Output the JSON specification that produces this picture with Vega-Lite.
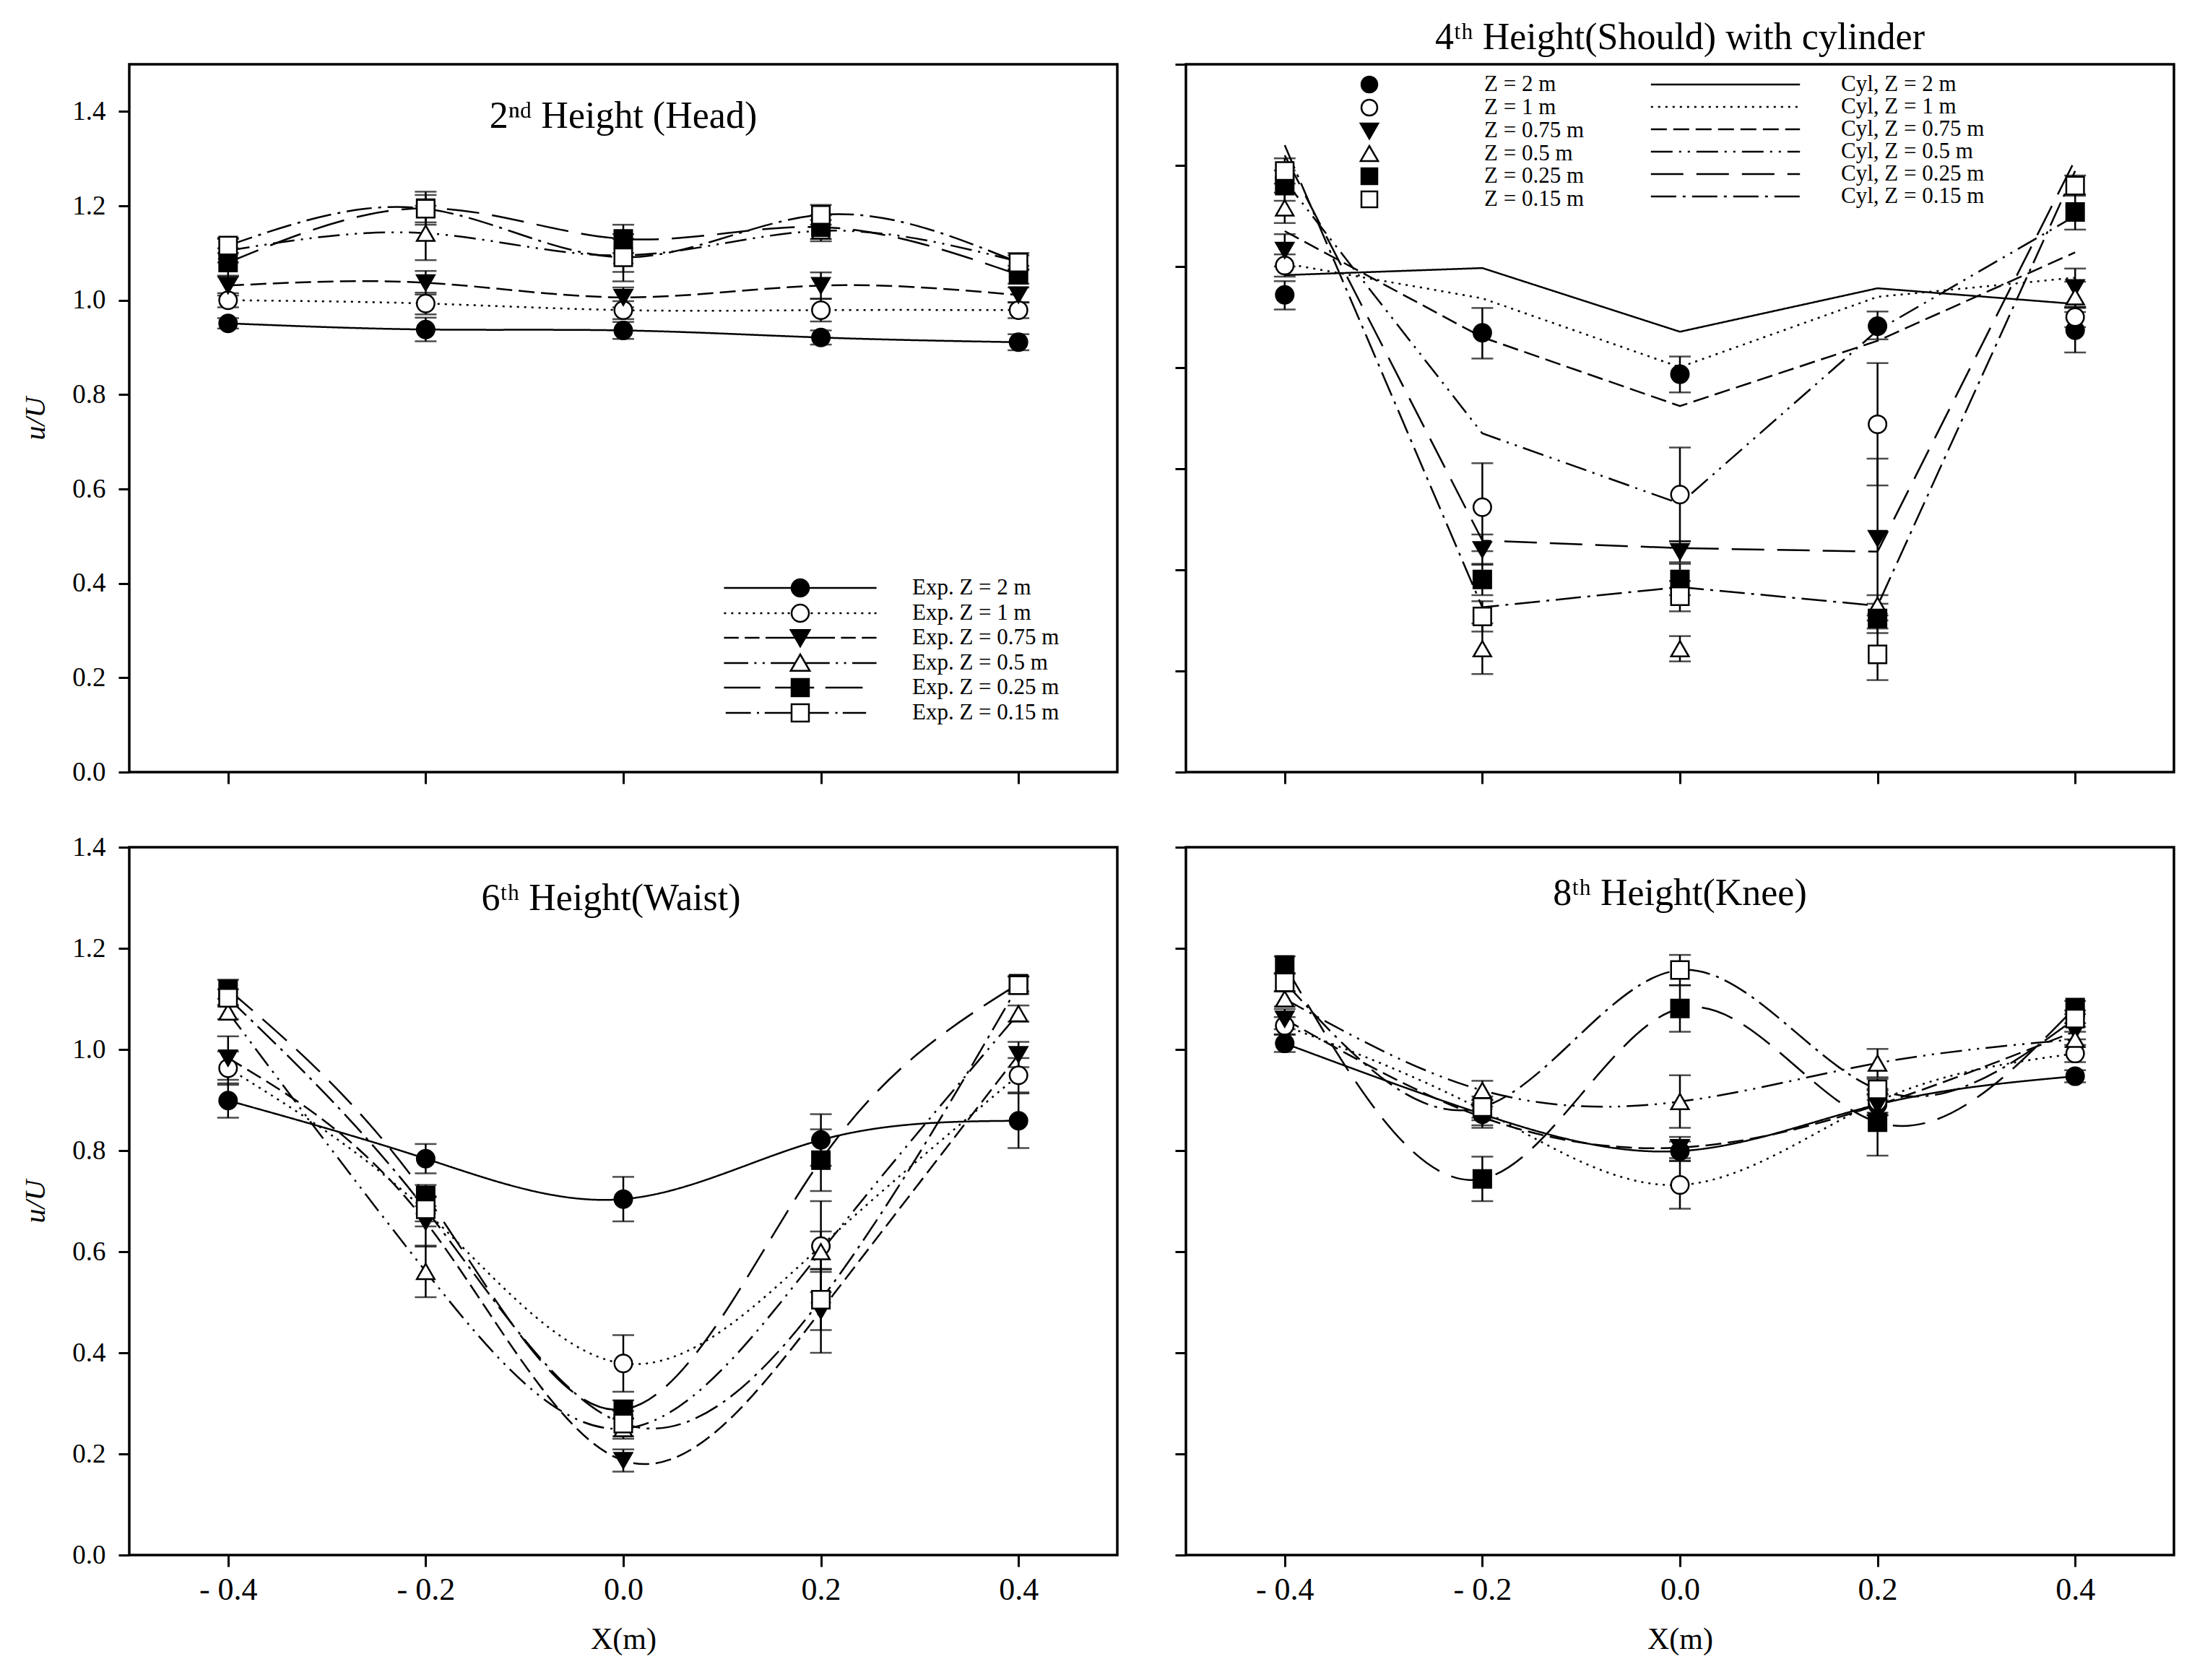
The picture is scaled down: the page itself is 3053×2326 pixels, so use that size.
{
  "$schema": "https://vega.github.io/schema/vega-lite/v6.json",
  "background": "white",
  "padding": {"left": 28, "top": 23, "right": 5, "bottom": 5},
  "bounds": "flush",
  "columns": 2,
  "spacing": {"row": 104, "column": 95},
  "resolve": {"scale": {"shape": "independent", "fill": "independent", "strokeDash": "independent"}},
  "config": {
    "view": {"stroke": "black", "strokeWidth": 3.5},
    "axis": {"domain": false, "grid": false, "ticks": true, "tickColor": "black", "tickWidth": 3, "tickSize": 15, "labelFont": "Liberation Serif", "labelColor": "black", "titleFont": "Liberation Serif", "titleColor": "black", "titleFontWeight": "normal"},
    "axisX": {"labelFontSize": 44, "labelPadding": 10, "titleFontSize": 42, "titlePadding": 26, "tickSize": 16},
    "axisY": {"labelFontSize": 37, "labelPadding": 18, "titleFontSize": 40, "titlePadding": 30, "titleFontStyle": "italic"},
    "title": {"font": "Liberation Serif", "fontSize": 52, "fontWeight": "normal", "color": "black", "frame": "group", "anchor": "middle", "baseline": "middle"},
    "legend": {"labelFont": "Liberation Serif", "labelColor": "black", "labelLimit": 400, "padding": 0}
  },
  "datasets": {
    "exp": [
      {"p": "head", "z": "Z = 2 m", "x": -0.4, "u": 0.951, "lo": 0.94, "hi": 0.962},
      {"p": "head", "z": "Z = 2 m", "x": -0.2, "u": 0.938, "lo": 0.913, "hi": 0.963},
      {"p": "head", "z": "Z = 2 m", "x": 0, "u": 0.936, "lo": 0.918, "hi": 0.954},
      {"p": "head", "z": "Z = 2 m", "x": 0.2, "u": 0.921, "lo": 0.906, "hi": 0.936},
      {"p": "head", "z": "Z = 2 m", "x": 0.4, "u": 0.911, "lo": 0.894, "hi": 0.928},
      {"p": "head", "z": "Z = 1 m", "x": -0.4, "u": 1.0, "lo": 0.985, "hi": 1.015},
      {"p": "head", "z": "Z = 1 m", "x": -0.2, "u": 0.993, "lo": 0.97, "hi": 1.016},
      {"p": "head", "z": "Z = 1 m", "x": 0, "u": 0.979, "lo": 0.96, "hi": 0.998},
      {"p": "head", "z": "Z = 1 m", "x": 0.2, "u": 0.979, "lo": 0.955, "hi": 1.003},
      {"p": "head", "z": "Z = 1 m", "x": 0.4, "u": 0.979, "lo": 0.962, "hi": 0.996},
      {"p": "head", "z": "Z = 0.75 m", "x": -0.4, "u": 1.031, "lo": 1.01, "hi": 1.052},
      {"p": "head", "z": "Z = 0.75 m", "x": -0.2, "u": 1.037, "lo": 1.012, "hi": 1.062},
      {"p": "head", "z": "Z = 0.75 m", "x": 0, "u": 1.006, "lo": 0.985, "hi": 1.027},
      {"p": "head", "z": "Z = 0.75 m", "x": 0.2, "u": 1.031, "lo": 1.003, "hi": 1.059},
      {"p": "head", "z": "Z = 0.75 m", "x": 0.4, "u": 1.011, "lo": 0.995, "hi": 1.027},
      {"p": "head", "z": "Z = 0.5 m", "x": -0.4, "u": 1.105, "lo": 1.08, "hi": 1.13},
      {"p": "head", "z": "Z = 0.5 m", "x": -0.2, "u": 1.142, "lo": 1.085, "hi": 1.2},
      {"p": "head", "z": "Z = 0.5 m", "x": 0, "u": 1.095, "lo": 1.06, "hi": 1.13},
      {"p": "head", "z": "Z = 0.5 m", "x": 0.2, "u": 1.147, "lo": 1.125, "hi": 1.17},
      {"p": "head", "z": "Z = 0.5 m", "x": 0.4, "u": 1.082, "lo": 1.065, "hi": 1.1},
      {"p": "head", "z": "Z = 0.25 m", "x": -0.4, "u": 1.08, "lo": 1.05, "hi": 1.11},
      {"p": "head", "z": "Z = 0.25 m", "x": -0.2, "u": 1.195, "lo": 1.16, "hi": 1.23},
      {"p": "head", "z": "Z = 0.25 m", "x": 0, "u": 1.13, "lo": 1.1, "hi": 1.16},
      {"p": "head", "z": "Z = 0.25 m", "x": 0.2, "u": 1.155, "lo": 1.13, "hi": 1.18},
      {"p": "head", "z": "Z = 0.25 m", "x": 0.4, "u": 1.054, "lo": 1.035, "hi": 1.073},
      {"p": "head", "z": "Z = 0.15 m", "x": -0.4, "u": 1.116, "lo": 1.1, "hi": 1.132},
      {"p": "head", "z": "Z = 0.15 m", "x": -0.2, "u": 1.194, "lo": 1.165, "hi": 1.223},
      {"p": "head", "z": "Z = 0.15 m", "x": 0, "u": 1.091, "lo": 1.04, "hi": 1.14},
      {"p": "head", "z": "Z = 0.15 m", "x": 0.2, "u": 1.181, "lo": 1.16, "hi": 1.202},
      {"p": "head", "z": "Z = 0.15 m", "x": 0.4, "u": 1.08, "lo": 1.065, "hi": 1.095},

      {"p": "shoulder", "z": "Z = 2 m", "x": -0.4, "u": 0.944, "lo": 0.915, "hi": 0.971},
      {"p": "shoulder", "z": "Z = 2 m", "x": -0.2, "u": 0.869, "lo": 0.818, "hi": 0.918},
      {"p": "shoulder", "z": "Z = 2 m", "x": 0, "u": 0.787, "lo": 0.751, "hi": 0.822},
      {"p": "shoulder", "z": "Z = 2 m", "x": 0.2, "u": 0.882, "lo": 0.856, "hi": 0.911},
      {"p": "shoulder", "z": "Z = 2 m", "x": 0.4, "u": 0.874, "lo": 0.83, "hi": 0.918},
      {"p": "shoulder", "z": "Z = 1 m", "x": -0.4, "u": 1.002, "lo": 0.98, "hi": 1.024},
      {"p": "shoulder", "z": "Z = 1 m", "x": -0.2, "u": 0.524, "lo": 0.437, "hi": 0.611},
      {"p": "shoulder", "z": "Z = 1 m", "x": 0, "u": 0.549, "lo": 0.456, "hi": 0.642},
      {"p": "shoulder", "z": "Z = 1 m", "x": 0.2, "u": 0.688, "lo": 0.567, "hi": 0.809},
      {"p": "shoulder", "z": "Z = 1 m", "x": 0.4, "u": 0.9, "lo": 0.88, "hi": 0.92},
      {"p": "shoulder", "z": "Z = 0.75 m", "x": -0.4, "u": 1.032, "lo": 1.0, "hi": 1.064},
      {"p": "shoulder", "z": "Z = 0.75 m", "x": -0.2, "u": 0.44, "lo": 0.41, "hi": 0.47},
      {"p": "shoulder", "z": "Z = 0.75 m", "x": 0, "u": 0.436, "lo": 0.415, "hi": 0.457},
      {"p": "shoulder", "z": "Z = 0.75 m", "x": 0.2, "u": 0.462, "lo": 0.3, "hi": 0.62},
      {"p": "shoulder", "z": "Z = 0.75 m", "x": 0.4, "u": 0.958, "lo": 0.92, "hi": 0.996},
      {"p": "shoulder", "z": "Z = 0.5 m", "x": -0.4, "u": 1.116, "lo": 1.086, "hi": 1.146},
      {"p": "shoulder", "z": "Z = 0.5 m", "x": -0.2, "u": 0.244, "lo": 0.194, "hi": 0.294},
      {"p": "shoulder", "z": "Z = 0.5 m", "x": 0, "u": 0.244, "lo": 0.219, "hi": 0.269},
      {"p": "shoulder", "z": "Z = 0.5 m", "x": 0.2, "u": 0.33, "lo": 0.31, "hi": 0.35},
      {"p": "shoulder", "z": "Z = 0.5 m", "x": 0.4, "u": 0.94, "lo": 0.91, "hi": 0.97},
      {"p": "shoulder", "z": "Z = 0.25 m", "x": -0.4, "u": 1.16, "lo": 1.13, "hi": 1.19},
      {"p": "shoulder", "z": "Z = 0.25 m", "x": -0.2, "u": 0.381, "lo": 0.35, "hi": 0.412},
      {"p": "shoulder", "z": "Z = 0.25 m", "x": 0, "u": 0.381, "lo": 0.35, "hi": 0.412},
      {"p": "shoulder", "z": "Z = 0.25 m", "x": 0.2, "u": 0.304, "lo": 0.275, "hi": 0.333},
      {"p": "shoulder", "z": "Z = 0.25 m", "x": 0.4, "u": 1.108, "lo": 1.073, "hi": 1.143},
      {"p": "shoulder", "z": "Z = 0.15 m", "x": -0.4, "u": 1.189, "lo": 1.164, "hi": 1.214},
      {"p": "shoulder", "z": "Z = 0.15 m", "x": -0.2, "u": 0.308, "lo": 0.278, "hi": 0.338},
      {"p": "shoulder", "z": "Z = 0.15 m", "x": 0, "u": 0.348, "lo": 0.318, "hi": 0.378},
      {"p": "shoulder", "z": "Z = 0.15 m", "x": 0.2, "u": 0.233, "lo": 0.182, "hi": 0.284},
      {"p": "shoulder", "z": "Z = 0.15 m", "x": 0.4, "u": 1.16, "lo": 1.14, "hi": 1.18},

      {"p": "waist", "z": "Z = 2 m", "x": -0.4, "u": 0.899, "lo": 0.865, "hi": 0.933},
      {"p": "waist", "z": "Z = 2 m", "x": -0.2, "u": 0.784, "lo": 0.755, "hi": 0.813},
      {"p": "waist", "z": "Z = 2 m", "x": 0, "u": 0.704, "lo": 0.66, "hi": 0.748},
      {"p": "waist", "z": "Z = 2 m", "x": 0.2, "u": 0.821, "lo": 0.77, "hi": 0.872},
      {"p": "waist", "z": "Z = 2 m", "x": 0.4, "u": 0.859, "lo": 0.805, "hi": 0.913},
      {"p": "waist", "z": "Z = 1 m", "x": -0.4, "u": 0.963, "lo": 0.93, "hi": 0.996},
      {"p": "waist", "z": "Z = 1 m", "x": -0.2, "u": 0.68, "lo": 0.65, "hi": 0.71},
      {"p": "waist", "z": "Z = 1 m", "x": 0, "u": 0.379, "lo": 0.323, "hi": 0.435},
      {"p": "waist", "z": "Z = 1 m", "x": 0.2, "u": 0.611, "lo": 0.52, "hi": 0.7},
      {"p": "waist", "z": "Z = 1 m", "x": 0.4, "u": 0.949, "lo": 0.915, "hi": 0.983},
      {"p": "waist", "z": "Z = 0.75 m", "x": -0.4, "u": 0.983, "lo": 0.94, "hi": 1.026},
      {"p": "waist", "z": "Z = 0.75 m", "x": -0.2, "u": 0.659, "lo": 0.61, "hi": 0.708},
      {"p": "waist", "z": "Z = 0.75 m", "x": 0, "u": 0.187, "lo": 0.165, "hi": 0.209},
      {"p": "waist", "z": "Z = 0.75 m", "x": 0.2, "u": 0.483, "lo": 0.4, "hi": 0.566},
      {"p": "waist", "z": "Z = 0.75 m", "x": 0.4, "u": 0.99, "lo": 0.965, "hi": 1.015},
      {"p": "waist", "z": "Z = 0.5 m", "x": -0.4, "u": 1.074, "lo": 1.06, "hi": 1.088},
      {"p": "waist", "z": "Z = 0.5 m", "x": -0.2, "u": 0.561, "lo": 0.51, "hi": 0.612},
      {"p": "waist", "z": "Z = 0.5 m", "x": 0, "u": 0.25, "lo": 0.23, "hi": 0.27},
      {"p": "waist", "z": "Z = 0.5 m", "x": 0.2, "u": 0.6, "lo": 0.56, "hi": 0.64},
      {"p": "waist", "z": "Z = 0.5 m", "x": 0.4, "u": 1.071, "lo": 1.055, "hi": 1.087},
      {"p": "waist", "z": "Z = 0.25 m", "x": -0.4, "u": 1.119, "lo": 1.1, "hi": 1.138},
      {"p": "waist", "z": "Z = 0.25 m", "x": -0.2, "u": 0.711, "lo": 0.69, "hi": 0.732},
      {"p": "waist", "z": "Z = 0.25 m", "x": 0, "u": 0.288, "lo": 0.27, "hi": 0.306},
      {"p": "waist", "z": "Z = 0.25 m", "x": 0.2, "u": 0.781, "lo": 0.72, "hi": 0.842},
      {"p": "waist", "z": "Z = 0.25 m", "x": 0.4, "u": 1.13, "lo": 1.115, "hi": 1.145},
      {"p": "waist", "z": "Z = 0.15 m", "x": -0.4, "u": 1.102, "lo": 1.085, "hi": 1.119},
      {"p": "waist", "z": "Z = 0.15 m", "x": -0.2, "u": 0.684, "lo": 0.66, "hi": 0.708},
      {"p": "waist", "z": "Z = 0.15 m", "x": 0, "u": 0.26, "lo": 0.235, "hi": 0.285},
      {"p": "waist", "z": "Z = 0.15 m", "x": 0.2, "u": 0.505, "lo": 0.445, "hi": 0.565},
      {"p": "waist", "z": "Z = 0.15 m", "x": 0.4, "u": 1.127, "lo": 1.11, "hi": 1.144},

      {"p": "knee", "z": "Z = 2 m", "x": -0.4, "u": 1.012, "lo": 0.995, "hi": 1.029},
      {"p": "knee", "z": "Z = 2 m", "x": -0.2, "u": 0.872, "lo": 0.85, "hi": 0.894},
      {"p": "knee", "z": "Z = 2 m", "x": 0, "u": 0.799, "lo": 0.78, "hi": 0.818},
      {"p": "knee", "z": "Z = 2 m", "x": 0.2, "u": 0.891, "lo": 0.87, "hi": 0.912},
      {"p": "knee", "z": "Z = 2 m", "x": 0.4, "u": 0.947, "lo": 0.935, "hi": 0.959},
      {"p": "knee", "z": "Z = 1 m", "x": -0.4, "u": 1.047, "lo": 1.03, "hi": 1.064},
      {"p": "knee", "z": "Z = 1 m", "x": -0.2, "u": 0.88, "lo": 0.86, "hi": 0.9},
      {"p": "knee", "z": "Z = 1 m", "x": 0, "u": 0.732, "lo": 0.685, "hi": 0.779},
      {"p": "knee", "z": "Z = 1 m", "x": 0.2, "u": 0.897, "lo": 0.875, "hi": 0.919},
      {"p": "knee", "z": "Z = 1 m", "x": 0.4, "u": 0.992, "lo": 0.975, "hi": 1.009},
      {"p": "knee", "z": "Z = 0.75 m", "x": -0.4, "u": 1.06, "lo": 1.04, "hi": 1.08},
      {"p": "knee", "z": "Z = 0.75 m", "x": -0.2, "u": 0.866, "lo": 0.845, "hi": 0.887},
      {"p": "knee", "z": "Z = 0.75 m", "x": 0, "u": 0.806, "lo": 0.785, "hi": 0.827},
      {"p": "knee", "z": "Z = 0.75 m", "x": 0.2, "u": 0.89, "lo": 0.87, "hi": 0.91},
      {"p": "knee", "z": "Z = 0.75 m", "x": 0.4, "u": 1.036, "lo": 1.02, "hi": 1.052},
      {"p": "knee", "z": "Z = 0.5 m", "x": -0.4, "u": 1.1, "lo": 1.085, "hi": 1.115},
      {"p": "knee", "z": "Z = 0.5 m", "x": -0.2, "u": 0.919, "lo": 0.9, "hi": 0.938},
      {"p": "knee", "z": "Z = 0.5 m", "x": 0, "u": 0.897, "lo": 0.845, "hi": 0.949},
      {"p": "knee", "z": "Z = 0.5 m", "x": 0.2, "u": 0.973, "lo": 0.945, "hi": 1.001},
      {"p": "knee", "z": "Z = 0.5 m", "x": 0.4, "u": 1.02, "lo": 1.005, "hi": 1.035},
      {"p": "knee", "z": "Z = 0.25 m", "x": -0.4, "u": 1.167, "lo": 1.15, "hi": 1.184},
      {"p": "knee", "z": "Z = 0.25 m", "x": -0.2, "u": 0.744, "lo": 0.7, "hi": 0.788},
      {"p": "knee", "z": "Z = 0.25 m", "x": 0, "u": 1.081, "lo": 1.035, "hi": 1.127},
      {"p": "knee", "z": "Z = 0.25 m", "x": 0.2, "u": 0.856, "lo": 0.79, "hi": 0.922},
      {"p": "knee", "z": "Z = 0.25 m", "x": 0.4, "u": 1.083, "lo": 1.07, "hi": 1.096},
      {"p": "knee", "z": "Z = 0.15 m", "x": -0.4, "u": 1.133, "lo": 1.115, "hi": 1.151},
      {"p": "knee", "z": "Z = 0.15 m", "x": -0.2, "u": 0.886, "lo": 0.865, "hi": 0.907},
      {"p": "knee", "z": "Z = 0.15 m", "x": 0, "u": 1.157, "lo": 1.127, "hi": 1.187},
      {"p": "knee", "z": "Z = 0.15 m", "x": 0.2, "u": 0.921, "lo": 0.9, "hi": 0.942},
      {"p": "knee", "z": "Z = 0.15 m", "x": 0.4, "u": 1.061, "lo": 1.045, "hi": 1.077}
    ],
    "cyl": [
      {"c": "Cyl, Z = 2 m", "x": -0.4, "u": 0.983},
      {"c": "Cyl, Z = 2 m", "x": -0.2, "u": 0.997},
      {"c": "Cyl, Z = 2 m", "x": 0, "u": 0.871},
      {"c": "Cyl, Z = 2 m", "x": 0.2, "u": 0.957},
      {"c": "Cyl, Z = 2 m", "x": 0.4, "u": 0.926},
      {"c": "Cyl, Z = 1 m", "x": -0.4, "u": 1.006},
      {"c": "Cyl, Z = 1 m", "x": -0.2, "u": 0.937},
      {"c": "Cyl, Z = 1 m", "x": 0, "u": 0.801},
      {"c": "Cyl, Z = 1 m", "x": 0.2, "u": 0.94},
      {"c": "Cyl, Z = 1 m", "x": 0.4, "u": 0.978},
      {"c": "Cyl, Z = 0.75 m", "x": -0.4, "u": 1.07},
      {"c": "Cyl, Z = 0.75 m", "x": -0.2, "u": 0.86},
      {"c": "Cyl, Z = 0.75 m", "x": 0, "u": 0.724},
      {"c": "Cyl, Z = 0.75 m", "x": 0.2, "u": 0.853},
      {"c": "Cyl, Z = 0.75 m", "x": 0.4, "u": 1.028},
      {"c": "Cyl, Z = 0.5 m", "x": -0.4, "u": 1.17},
      {"c": "Cyl, Z = 0.5 m", "x": -0.2, "u": 0.67},
      {"c": "Cyl, Z = 0.5 m", "x": 0, "u": 0.531},
      {"c": "Cyl, Z = 0.5 m", "x": 0.2, "u": 0.874},
      {"c": "Cyl, Z = 0.5 m", "x": 0.4, "u": 1.1},
      {"c": "Cyl, Z = 0.25 m", "x": -0.4, "u": 1.22},
      {"c": "Cyl, Z = 0.25 m", "x": -0.2, "u": 0.458},
      {"c": "Cyl, Z = 0.25 m", "x": 0, "u": 0.443},
      {"c": "Cyl, Z = 0.25 m", "x": 0.2, "u": 0.436},
      {"c": "Cyl, Z = 0.25 m", "x": 0.4, "u": 1.211},
      {"c": "Cyl, Z = 0.15 m", "x": -0.4, "u": 1.24},
      {"c": "Cyl, Z = 0.15 m", "x": -0.2, "u": 0.326},
      {"c": "Cyl, Z = 0.15 m", "x": 0, "u": 0.366},
      {"c": "Cyl, Z = 0.15 m", "x": 0.2, "u": 0.329},
      {"c": "Cyl, Z = 0.15 m", "x": 0.4, "u": 1.189}
    ]
  },
  "concat": [
    {
      "width": 1368,
      "height": 980,
      "title": {"text": "2ⁿᵈ Height (Head)", "offset": -99},
      "data": {"name": "exp"},
      "transform": [{"filter": "datum.p == 'head'"}],
      "encoding": {
        "x": {"field": "x", "type": "quantitative", "scale": {"domain": [-0.5, 0.5], "nice": false}, "axis": {"values": [-0.4, -0.2, 0, 0.2, 0.4], "labels": false, "title": null}}
      },
      "layer": [
        {
          "mark": {"type": "line", "interpolate": "natural", "color": "black", "strokeWidth": 2.5},
          "encoding": {
            "y": {"field": "u", "type": "quantitative", "scale": {"domain": [0, 1.5], "nice": false}, "axis": {"values": [0, 0.2, 0.4, 0.6, 0.8, 1, 1.2, 1.4], "format": ".1f", "title": "u/U"}},
            "strokeDash": {"field": "z", "type": "nominal", "scale": {"domain": ["Z = 2 m", "Z = 1 m", "Z = 0.75 m", "Z = 0.5 m", "Z = 0.25 m", "Z = 0.15 m"], "range": [[1, 0], [3, 7], [22, 9], [30, 9, 3, 9, 3, 9], [45, 18], [35, 9, 4, 9]]}, "legend": null}
          }
        },
        {
          "mark": {"type": "rule", "color": "black", "strokeWidth": 2.5},
          "encoding": {
            "y": {"field": "lo", "type": "quantitative", "scale": {"domain": [0, 1.5], "nice": false}, "axis": {"values": [0, 0.2, 0.4, 0.6, 0.8, 1, 1.2, 1.4], "format": ".1f", "title": "u/U"}},
            "y2": {"field": "hi"}
          }
        },
        {
          "mark": {"type": "tick", "orient": "horizontal", "color": "black", "size": 30, "thickness": 2.5},
          "encoding": {
            "y": {"field": "lo", "type": "quantitative", "scale": {"domain": [0, 1.5], "nice": false}, "axis": {"values": [0, 0.2, 0.4, 0.6, 0.8, 1, 1.2, 1.4], "format": ".1f", "title": "u/U"}}
          }
        },
        {
          "mark": {"type": "tick", "orient": "horizontal", "color": "black", "size": 30, "thickness": 2.5},
          "encoding": {
            "y": {"field": "hi", "type": "quantitative", "scale": {"domain": [0, 1.5], "nice": false}, "axis": {"values": [0, 0.2, 0.4, 0.6, 0.8, 1, 1.2, 1.4], "format": ".1f", "title": "u/U"}}
          }
        },
        {
          "mark": {"type": "point", "filled": true, "size": 600, "stroke": "black", "strokeWidth": 2.5, "opacity": 1},
          "encoding": {
            "y": {"field": "u", "type": "quantitative", "scale": {"domain": [0, 1.5], "nice": false}, "axis": {"values": [0, 0.2, 0.4, 0.6, 0.8, 1, 1.2, 1.4], "format": ".1f", "title": "u/U"}},
            "shape": {"field": "z", "type": "nominal", "scale": {"domain": ["Z = 2 m", "Z = 1 m", "Z = 0.75 m", "Z = 0.5 m", "Z = 0.25 m", "Z = 0.15 m"], "range": ["circle", "circle", "triangle-down", "triangle-up", "square", "square"]}, "legend": null},
            "fill": {"field": "z", "type": "nominal", "scale": {"domain": ["Z = 2 m", "Z = 1 m", "Z = 0.75 m", "Z = 0.5 m", "Z = 0.25 m", "Z = 0.15 m"], "range": ["black", "white", "black", "white", "black", "white"]}, "legend": null}
          }
        },
        {
          "transform": [{"filter": "datum.u < 0"}],
          "mark": {"type": "point", "color": "black", "opacity": 1},
          "encoding": {
            "y": {"field": "u", "type": "quantitative", "scale": {"domain": [0, 1.5], "nice": false}, "axis": {"values": [0, 0.2, 0.4, 0.6, 0.8, 1, 1.2, 1.4], "format": ".1f", "title": "u/U"}},
            "shape": {
              "field": "z",
              "type": "nominal",
              "scale": {
                "domain": ["Z = 2 m", "Z = 1 m", "Z = 0.75 m", "Z = 0.5 m", "Z = 0.25 m", "Z = 0.15 m"],
                "range": [
                  "M-8.8,0L-1,0M1,0L8.8,0M1,0A1,1,0,1,1,-1,0A1,1,0,1,1,1,0ZM-0.436,-0.9L0.436,-0.9M-0.714,-0.7L0.714,-0.7M-0.866,-0.5L0.866,-0.5M-0.954,-0.3L0.954,-0.3M-0.995,-0.1L0.995,-0.1M-0.995,0.1L0.995,0.1M-0.954,0.3L0.954,0.3M-0.866,0.5L0.866,0.5M-0.714,0.7L0.714,0.7M-0.436,0.9L0.436,0.9",
                  "M-8.8,0h0.25M-7.97,0h0.25M-7.13,0h0.25M-6.3,0h0.25M-5.47,0h0.25M-4.63,0h0.25M-3.8,0h0.25M-2.97,0h0.25M-2.13,0h0.25M-1.45,0h0.25M1.2,0h0.25M2.03,0h0.25M2.87,0h0.25M3.7,0h0.25M4.53,0h0.25M5.37,0h0.25M6.2,0h0.25M7.03,0h0.25M7.87,0h0.25M8.55,0h0.25M1,0A1,1,0,1,1,-1,0A1,1,0,1,1,1,0Z",
                  "M-8.8,0L-7.1,0M-6.4,0L-4.7,0M-4,0L-0.6,0M0.6,0L4,0M4.7,0L6.4,0M7.1,0L8.8,0M-1.1,-0.9L1.1,-0.9L0,1ZM-1.04,-0.8L1.04,-0.8M-0.93,-0.6L0.93,-0.6M-0.81,-0.4L0.81,-0.4M-0.7,-0.2L0.7,-0.2M-0.58,0L0.58,0M-0.46,0.2L0.46,0.2M-0.35,0.4L0.35,0.4M-0.23,0.6L0.23,0.6M-0.12,0.8L0.12,0.8",
                  "M-8.8,0L-6,0M-5.3,0L-5.05,0M-4.35,0L-4.1,0M-3.4,0L-0.6,0M0.6,0L3.4,0M4.1,0L4.35,0M5.05,0L5.3,0M6,0L8.8,0M-1.1,0.9L1.1,0.9L0,-1Z",
                  "M-8.8,0L-4.6,0M-2.9,0L-1,0M1,0L1.6,0M2.9,0L7.2,0M-1,-1L1,-1L1,1L-1,1ZM-1,-0.8L1,-0.8M-1,-0.6L1,-0.6M-1,-0.4L1,-0.4M-1,-0.2L1,-0.2M-1,0L1,0M-1,0.2L1,0.2M-1,0.4L1,0.4M-1,0.6L1,0.6M-1,0.8L1,0.8",
                  "M-8.6,0L-5.7,0M-5,0L-4.75,0M-4.1,0L-1,0M1,0L3.3,0M4.05,0L4.3,0M4.9,0L7.6,0M-1,-1L1,-1L1,1L-1,1Z"
                ]
              },
              "legend": {
                "orient": "none", "legendX": 913.5, "legendY": 709.5, "title": null, "padding": 0,
                "symbolSize": 576, "symbolStrokeWidth": 2.5, "symbolOpacity": 1,
                "labelFontSize": 31, "labelOffset": 139.5, "rowPadding": 0,
                "labelExpr": "'Exp. ' + datum.label"
              }
            }
          }
        }
      ],
      "resolve": {"scale": {"shape": "independent"}}
    },
    {
      "width": 1368,
      "height": 980,
      "title": {"text": "4ᵗʰ Height(Should) with cylinder", "offset": 9},
      "encoding": {
        "x": {"field": "x", "type": "quantitative", "scale": {"domain": [-0.5, 0.5], "nice": false}, "axis": {"values": [-0.4, -0.2, 0, 0.2, 0.4], "labels": false, "title": null}}
      },
      "layer": [
        {
          "data": {"name": "cyl"},
          "mark": {"type": "line", "color": "black", "strokeWidth": 2.5},
          "encoding": {
            "y": {"field": "u", "type": "quantitative", "scale": {"domain": [0, 1.4], "nice": false}, "axis": {"values": [0, 0.2, 0.4, 0.6, 0.8, 1, 1.2, 1.4], "labels": false, "title": null}},
            "strokeDash": {
              "field": "c", "type": "nominal",
              "scale": {"domain": ["Cyl, Z = 2 m", "Cyl, Z = 1 m", "Cyl, Z = 0.75 m", "Cyl, Z = 0.5 m", "Cyl, Z = 0.25 m", "Cyl, Z = 0.15 m"], "range": [[1, 0], [3, 7], [22, 9], [30, 9, 3, 9, 3, 9], [45, 18], [35, 9, 4, 9]]},
              "legend": {
                "orient": "none", "legendX": 731.5, "legendY": 12.5, "title": null, "padding": 0,
                "symbolType": "M-8.6,0L8.6,0", "symbolSize": 576, "symbolStrokeWidth": 2.5, "symbolStrokeColor": "black",
                "labelFontSize": 31, "labelOffset": 144.5, "rowPadding": -2
              }
            }
          }
        },
        {
          "data": {"name": "exp"},
          "transform": [{"filter": "datum.p == 'shoulder'"}],
          "mark": {"type": "rule", "color": "black", "strokeWidth": 2.5},
          "encoding": {
            "y": {"field": "lo", "type": "quantitative", "scale": {"domain": [0, 1.4], "nice": false}, "axis": {"values": [0, 0.2, 0.4, 0.6, 0.8, 1, 1.2, 1.4], "labels": false, "title": null}},
            "y2": {"field": "hi"}
          }
        },
        {
          "data": {"name": "exp"},
          "transform": [{"filter": "datum.p == 'shoulder'"}],
          "mark": {"type": "tick", "orient": "horizontal", "color": "black", "size": 30, "thickness": 2.5},
          "encoding": {
            "y": {"field": "lo", "type": "quantitative", "scale": {"domain": [0, 1.4], "nice": false}, "axis": {"values": [0, 0.2, 0.4, 0.6, 0.8, 1, 1.2, 1.4], "labels": false, "title": null}}
          }
        },
        {
          "data": {"name": "exp"},
          "transform": [{"filter": "datum.p == 'shoulder'"}],
          "mark": {"type": "tick", "orient": "horizontal", "color": "black", "size": 30, "thickness": 2.5},
          "encoding": {
            "y": {"field": "hi", "type": "quantitative", "scale": {"domain": [0, 1.4], "nice": false}, "axis": {"values": [0, 0.2, 0.4, 0.6, 0.8, 1, 1.2, 1.4], "labels": false, "title": null}}
          }
        },
        {
          "data": {"name": "exp"},
          "transform": [{"filter": "datum.p == 'shoulder'"}],
          "mark": {"type": "point", "filled": true, "size": 600, "stroke": "black", "strokeWidth": 2.5, "opacity": 1},
          "encoding": {
            "y": {"field": "u", "type": "quantitative", "scale": {"domain": [0, 1.4], "nice": false}, "axis": {"values": [0, 0.2, 0.4, 0.6, 0.8, 1, 1.2, 1.4], "labels": false, "title": null}},
            "shape": {"field": "z", "type": "nominal", "scale": {"domain": ["Z = 2 m", "Z = 1 m", "Z = 0.75 m", "Z = 0.5 m", "Z = 0.25 m", "Z = 0.15 m"], "range": ["circle", "circle", "triangle-down", "triangle-up", "square", "square"]}, "legend": null},
            "fill": {"field": "z", "type": "nominal", "scale": {"domain": ["Z = 2 m", "Z = 1 m", "Z = 0.75 m", "Z = 0.5 m", "Z = 0.25 m", "Z = 0.15 m"], "range": ["black", "white", "black", "white", "black", "white"]}, "legend": null}
          }
        },
        {
          "data": {"name": "exp"},
          "transform": [{"filter": "datum.p == 'shoulder' && datum.u < 0"}],
          "mark": {"type": "point", "color": "black", "opacity": 1},
          "encoding": {
            "y": {"field": "u", "type": "quantitative", "scale": {"domain": [0, 1.4], "nice": false}, "axis": {"values": [0, 0.2, 0.4, 0.6, 0.8, 1, 1.2, 1.4], "labels": false, "title": null}},
            "shape": {
              "field": "z", "type": "nominal",
              "scale": {
                "domain": ["Z = 2 m", "Z = 1 m", "Z = 0.75 m", "Z = 0.5 m", "Z = 0.25 m", "Z = 0.15 m"],
                "range": [
                  "M1,0A1,1,0,1,1,-1,0A1,1,0,1,1,1,0ZM-0.436,-0.9L0.436,-0.9M-0.714,-0.7L0.714,-0.7M-0.866,-0.5L0.866,-0.5M-0.954,-0.3L0.954,-0.3M-0.995,-0.1L0.995,-0.1M-0.995,0.1L0.995,0.1M-0.954,0.3L0.954,0.3M-0.866,0.5L0.866,0.5M-0.714,0.7L0.714,0.7M-0.436,0.9L0.436,0.9",
                  "M1,0A1,1,0,1,1,-1,0A1,1,0,1,1,1,0Z",
                  "M-1.1,-0.9L1.1,-0.9L0,1ZM-1.04,-0.8L1.04,-0.8M-0.93,-0.6L0.93,-0.6M-0.81,-0.4L0.81,-0.4M-0.7,-0.2L0.7,-0.2M-0.58,0L0.58,0M-0.46,0.2L0.46,0.2M-0.35,0.4L0.35,0.4M-0.23,0.6L0.23,0.6M-0.12,0.8L0.12,0.8",
                  "M-1.1,0.9L1.1,0.9L0,-1Z",
                  "M-1,-1L1,-1L1,1L-1,1ZM-1,-0.8L1,-0.8M-1,-0.6L1,-0.6M-1,-0.4L1,-0.4M-1,-0.2L1,-0.2M-1,0L1,0M-1,0.2L1,0.2M-1,0.4L1,0.4M-1,0.6L1,0.6M-1,0.8L1,0.8",
                  "M-1,-1L1,-1L1,1L-1,1Z"
                ]
              },
              "legend": {
                "orient": "none", "legendX": 238.5, "legendY": 12.5, "title": null, "padding": 0,
                "symbolSize": 484, "symbolStrokeWidth": 2.5, "symbolOpacity": 1,
                "labelFontSize": 31, "labelOffset": 143.5, "rowPadding": -2
              }
            }
          }
        }
      ],
      "resolve": {"scale": {"shape": "independent"}}
    },
    {
      "width": 1368,
      "height": 980,
      "title": {"text": "6ᵗʰ Height(Waist)", "offset": -117, "dx": -17},
      "data": {"name": "exp"},
      "transform": [{"filter": "datum.p == 'waist'"}],
      "encoding": {
        "x": {"field": "x", "type": "quantitative", "scale": {"domain": [-0.5, 0.5], "nice": false}, "axis": {"values": [-0.4, -0.2, 0, 0.2, 0.4], "labelExpr": "datum.value < -0.01 ? '- ' + format(-datum.value, '.1f') : format(abs(datum.value), '.1f')", "title": "X(m)"}}
      },
      "layer": [
        {
          "mark": {"type": "line", "interpolate": "natural", "color": "black", "strokeWidth": 2.5},
          "encoding": {
            "y": {"field": "u", "type": "quantitative", "scale": {"domain": [0, 1.4], "nice": false}, "axis": {"values": [0, 0.2, 0.4, 0.6, 0.8, 1, 1.2, 1.4], "format": ".1f", "title": "u/U"}},
            "strokeDash": {"field": "z", "type": "nominal", "scale": {"domain": ["Z = 2 m", "Z = 1 m", "Z = 0.75 m", "Z = 0.5 m", "Z = 0.25 m", "Z = 0.15 m"], "range": [[1, 0], [3, 7], [22, 9], [30, 9, 3, 9, 3, 9], [45, 18], [35, 9, 4, 9]]}, "legend": null}
          }
        },
        {
          "mark": {"type": "rule", "color": "black", "strokeWidth": 2.5},
          "encoding": {
            "y": {"field": "lo", "type": "quantitative", "scale": {"domain": [0, 1.4], "nice": false}, "axis": {"values": [0, 0.2, 0.4, 0.6, 0.8, 1, 1.2, 1.4], "format": ".1f", "title": "u/U"}},
            "y2": {"field": "hi"}
          }
        },
        {
          "mark": {"type": "tick", "orient": "horizontal", "color": "black", "size": 30, "thickness": 2.5},
          "encoding": {
            "y": {"field": "lo", "type": "quantitative", "scale": {"domain": [0, 1.4], "nice": false}, "axis": {"values": [0, 0.2, 0.4, 0.6, 0.8, 1, 1.2, 1.4], "format": ".1f", "title": "u/U"}}
          }
        },
        {
          "mark": {"type": "tick", "orient": "horizontal", "color": "black", "size": 30, "thickness": 2.5},
          "encoding": {
            "y": {"field": "hi", "type": "quantitative", "scale": {"domain": [0, 1.4], "nice": false}, "axis": {"values": [0, 0.2, 0.4, 0.6, 0.8, 1, 1.2, 1.4], "format": ".1f", "title": "u/U"}}
          }
        },
        {
          "mark": {"type": "point", "filled": true, "size": 600, "stroke": "black", "strokeWidth": 2.5, "opacity": 1},
          "encoding": {
            "y": {"field": "u", "type": "quantitative", "scale": {"domain": [0, 1.4], "nice": false}, "axis": {"values": [0, 0.2, 0.4, 0.6, 0.8, 1, 1.2, 1.4], "format": ".1f", "title": "u/U"}},
            "shape": {"field": "z", "type": "nominal", "scale": {"domain": ["Z = 2 m", "Z = 1 m", "Z = 0.75 m", "Z = 0.5 m", "Z = 0.25 m", "Z = 0.15 m"], "range": ["circle", "circle", "triangle-down", "triangle-up", "square", "square"]}, "legend": null},
            "fill": {"field": "z", "type": "nominal", "scale": {"domain": ["Z = 2 m", "Z = 1 m", "Z = 0.75 m", "Z = 0.5 m", "Z = 0.25 m", "Z = 0.15 m"], "range": ["black", "white", "black", "white", "black", "white"]}, "legend": null}
          }
        }
      ]
    },
    {
      "width": 1368,
      "height": 980,
      "title": {"text": "8ᵗʰ Height(Knee)", "offset": -92},
      "data": {"name": "exp"},
      "transform": [{"filter": "datum.p == 'knee'"}],
      "encoding": {
        "x": {"field": "x", "type": "quantitative", "scale": {"domain": [-0.5, 0.5], "nice": false}, "axis": {"values": [-0.4, -0.2, 0, 0.2, 0.4], "labelExpr": "datum.value < -0.01 ? '- ' + format(-datum.value, '.1f') : format(abs(datum.value), '.1f')", "title": "X(m)"}}
      },
      "layer": [
        {
          "mark": {"type": "line", "interpolate": "natural", "color": "black", "strokeWidth": 2.5},
          "encoding": {
            "y": {"field": "u", "type": "quantitative", "scale": {"domain": [0, 1.4], "nice": false}, "axis": {"values": [0, 0.2, 0.4, 0.6, 0.8, 1, 1.2, 1.4], "labels": false, "title": null}},
            "strokeDash": {"field": "z", "type": "nominal", "scale": {"domain": ["Z = 2 m", "Z = 1 m", "Z = 0.75 m", "Z = 0.5 m", "Z = 0.25 m", "Z = 0.15 m"], "range": [[1, 0], [3, 7], [22, 9], [30, 9, 3, 9, 3, 9], [45, 18], [35, 9, 4, 9]]}, "legend": null}
          }
        },
        {
          "mark": {"type": "rule", "color": "black", "strokeWidth": 2.5},
          "encoding": {
            "y": {"field": "lo", "type": "quantitative", "scale": {"domain": [0, 1.4], "nice": false}, "axis": {"values": [0, 0.2, 0.4, 0.6, 0.8, 1, 1.2, 1.4], "labels": false, "title": null}},
            "y2": {"field": "hi"}
          }
        },
        {
          "mark": {"type": "tick", "orient": "horizontal", "color": "black", "size": 30, "thickness": 2.5},
          "encoding": {
            "y": {"field": "lo", "type": "quantitative", "scale": {"domain": [0, 1.4], "nice": false}, "axis": {"values": [0, 0.2, 0.4, 0.6, 0.8, 1, 1.2, 1.4], "labels": false, "title": null}}
          }
        },
        {
          "mark": {"type": "tick", "orient": "horizontal", "color": "black", "size": 30, "thickness": 2.5},
          "encoding": {
            "y": {"field": "hi", "type": "quantitative", "scale": {"domain": [0, 1.4], "nice": false}, "axis": {"values": [0, 0.2, 0.4, 0.6, 0.8, 1, 1.2, 1.4], "labels": false, "title": null}}
          }
        },
        {
          "mark": {"type": "point", "filled": true, "size": 600, "stroke": "black", "strokeWidth": 2.5, "opacity": 1},
          "encoding": {
            "y": {"field": "u", "type": "quantitative", "scale": {"domain": [0, 1.4], "nice": false}, "axis": {"values": [0, 0.2, 0.4, 0.6, 0.8, 1, 1.2, 1.4], "labels": false, "title": null}},
            "shape": {"field": "z", "type": "nominal", "scale": {"domain": ["Z = 2 m", "Z = 1 m", "Z = 0.75 m", "Z = 0.5 m", "Z = 0.25 m", "Z = 0.15 m"], "range": ["circle", "circle", "triangle-down", "triangle-up", "square", "square"]}, "legend": null},
            "fill": {"field": "z", "type": "nominal", "scale": {"domain": ["Z = 2 m", "Z = 1 m", "Z = 0.75 m", "Z = 0.5 m", "Z = 0.25 m", "Z = 0.15 m"], "range": ["black", "white", "black", "white", "black", "white"]}, "legend": null}
          }
        }
      ]
    }
  ]
}
